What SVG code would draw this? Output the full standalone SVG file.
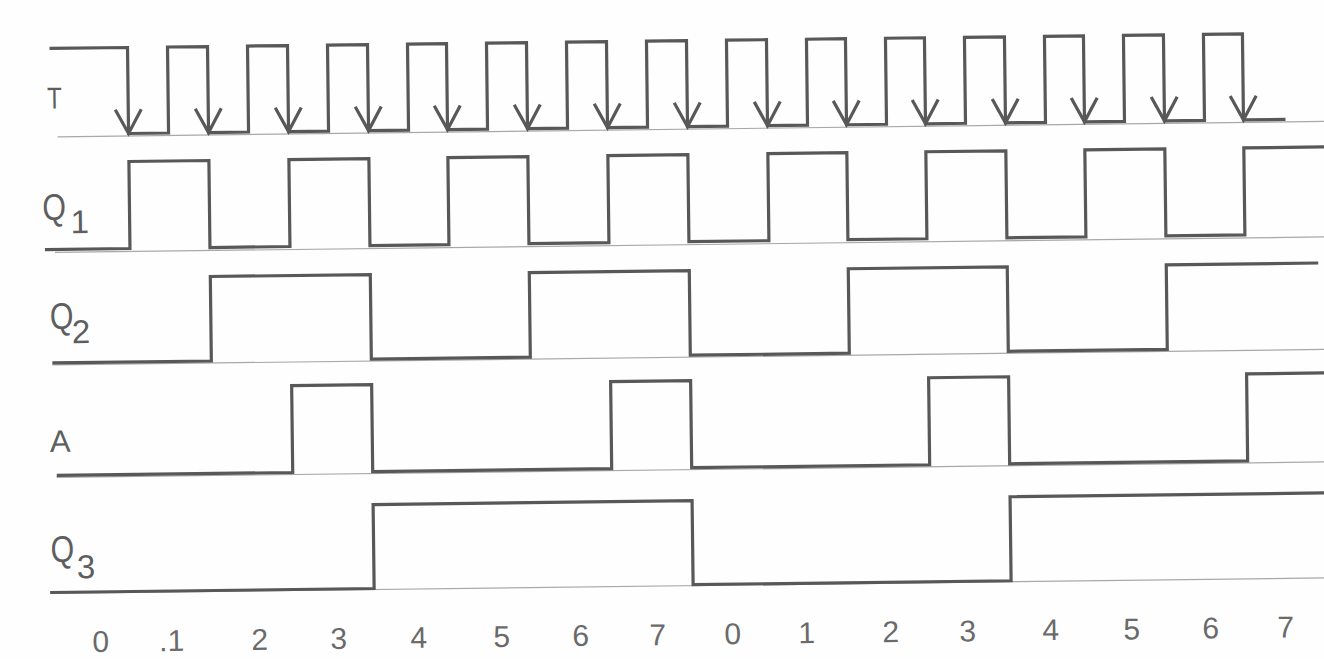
<svg xmlns="http://www.w3.org/2000/svg" xmlns:xlink="http://www.w3.org/1999/xlink" width="1324" height="659" viewBox="0 0 1324 659">
<style>
.sig{fill:none;stroke:#585858;stroke-width:3.2;stroke-linejoin:miter;stroke-linecap:butt}
.base{fill:none;stroke:#a8a8a8;stroke-width:1.2}
.ah{fill:none;stroke:#585858;stroke-width:3.2;stroke-linejoin:miter}
.lbl{font-family:"Liberation Sans",Arial,sans-serif;fill:#5e5e5e}
.num{font-family:"Liberation Sans",Arial,sans-serif;fill:#6a6a6a;font-size:30px;text-anchor:middle}
</style>
<defs>
<path id="arrowhead" class="ah" d="M-13,-24 L0,0 L13,-24"/>
</defs>
<rect x="0" y="0" width="1324" height="659" fill="#fefefe"/>
<g transform="rotate(-0.7 662 330)">
  <g id="baselines">
    <line class="base" x1="60" y1="129.5" x2="1345" y2="129.5"/>
    <line class="base" x1="56" y1="245" x2="1345" y2="245"/>
    <line class="base" x1="52" y1="357.5" x2="1345" y2="357.5"/>
    <line class="base" x1="55" y1="470" x2="1345" y2="470"/>
    <line class="base" x1="47" y1="586" x2="1345" y2="586"/>
  </g>
  <g id="T">
    <text class="lbl" font-size="30" transform="translate(50 101) scale(0.8 1)">T</text>
    <path class="sig" d="M53,41 H131 V127 H171 V41 H211 V127 H251 V41 H291 V127 H331 V41 H371 V127 H411 V41 H450 V127 H490 V41 H530 V127 H570 V41 H610 V127 H650 V41 H690 V127 H730 V41 H770 V127 H810 V41 H849 V127 H889 V41 H928 V127 H968 V41 H1008 V127 H1048 V41 H1087 V127 H1127 V41 H1167 V127 H1207 V41 H1246 V127 H1288"/>
  </g>
  <g id="connectors">
    <use href="#arrowhead" x="131" y="127"/>
    <use href="#arrowhead" x="211" y="127"/>
    <use href="#arrowhead" x="291" y="127"/>
    <use href="#arrowhead" x="371" y="127"/>
    <use href="#arrowhead" x="450" y="127"/>
    <use href="#arrowhead" x="530" y="127"/>
    <use href="#arrowhead" x="610" y="127"/>
    <use href="#arrowhead" x="690" y="127"/>
    <use href="#arrowhead" x="770" y="127"/>
    <use href="#arrowhead" x="849" y="127"/>
    <use href="#arrowhead" x="928" y="127"/>
    <use href="#arrowhead" x="1008" y="127"/>
    <use href="#arrowhead" x="1087" y="127"/>
    <use href="#arrowhead" x="1167" y="127"/>
    <use href="#arrowhead" x="1246" y="127"/>
  </g>
  <g id="Q1">
    <text class="lbl" font-size="37" transform="translate(44 212.5) scale(0.82 1)">Q</text>
    <text class="lbl" font-size="33" x="72" y="226">1</text>
    <path class="sig" d="M46,242 H131 V155 H211 V242 H291 V155 H371 V242 H450 V155 H530 V242 H610 V155 H690 V242 H770 V155 H849 V242 H928 V155 H1008 V242 H1087 V155 H1167 V242 H1246 V155 H1345"/>
  </g>
  <g id="Q2">
    <text class="lbl" font-size="37" transform="translate(50 321.5) scale(0.82 1)">Q</text>
    <text class="lbl" font-size="33" x="72" y="336">2</text>
    <path class="sig" d="M52,355.5 H211 V271 H371 V355.5 H530 V271 H690 V355.5 H849 V271 H1008 V355.5 H1167 V271 H1319"/>
  </g>
  <g id="A">
    <text class="lbl" font-size="31" x="48.5" y="444.5">A</text>
    <path class="sig" d="M55,468 H291 V381 H371 V468 H610 V381 H690 V468 H928 V381 H1008 V468 H1246 V381 H1345"/>
  </g>
  <g id="Q3">
    <text class="lbl" font-size="37" transform="translate(48 554.5) scale(0.82 1)">Q</text>
    <text class="lbl" font-size="33" x="74" y="571">3</text>
    <path class="sig" d="M47,585 H371 V501 H690 V585 H1008 V501 H1345"/>
  </g>
  <g id="axis">
    <text class="num" x="97" y="645">0</text>
    <text class="num" x="168" y="645">.1</text>
    <text class="num" x="256" y="645">2</text>
    <text class="num" x="335" y="645">3</text>
    <text class="num" x="415" y="645">4</text>
    <text class="num" x="498" y="645">5</text>
    <text class="num" x="577" y="645">6</text>
    <text class="num" x="654" y="645">7</text>
    <text class="num" x="729" y="645">0</text>
    <text class="num" x="803" y="645">1</text>
    <text class="num" x="887" y="645">2</text>
    <text class="num" x="964" y="645">3</text>
    <text class="num" x="1047" y="645">4</text>
    <text class="num" x="1128" y="645">5</text>
    <text class="num" x="1207" y="645">6</text>
    <text class="num" x="1282" y="645">7</text>
  </g>
</g>
</svg>
